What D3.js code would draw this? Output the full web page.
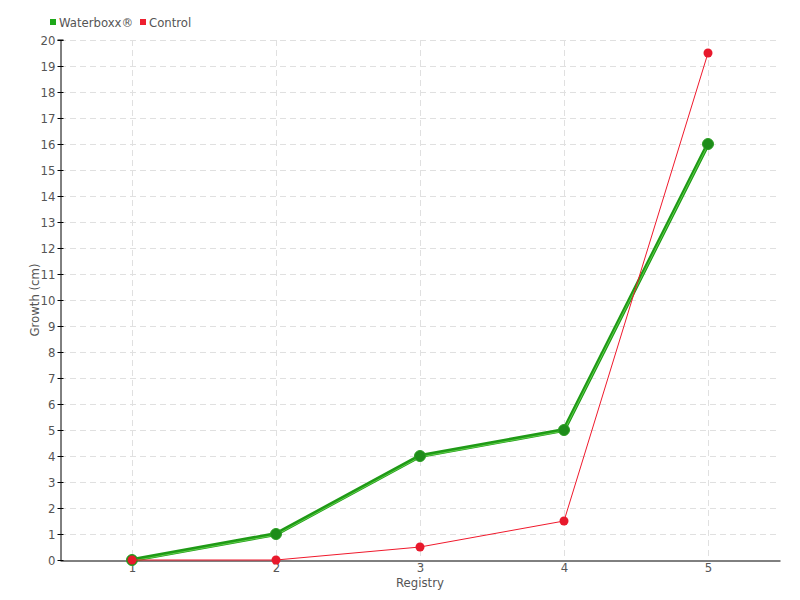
<!DOCTYPE html>
<html>
<head>
<meta charset="utf-8">
<script src="https://cdn.jsdelivr.net/npm/d3@7"></script>
<style>
  body { margin: 0; background: #fff; }
  text { font-family: "DejaVu Sans Condensed", "DejaVu Sans", sans-serif; font-stretch: condensed; fill: #555; }
</style>
</head>
<body>
<div id="chart"></div>
<script>
const registries = ["1", "2", "3", "4", "5"];
const waterboxx = [0, 1, 4, 5, 16];
const control = [0, 0, 0.5, 1.5, 19.5];
const yTicks = d3.range(0, 21);

const width = 800, height = 600;
const margin = { top: 40, right: 20, bottom: 40, left: 60 };

const svg = d3.select("#chart").append("svg")
  .attr("width", width)
  .attr("height", height);

const x = d3.scalePoint()
  .domain(registries)
  .range([margin.left, width - margin.right])
  .padding(0.5);

const y = d3.scaleLinear()
  .domain([0, 20])
  .range([height - margin.bottom, margin.top]);

// grid
const grid = svg.append("g");
grid.selectAll(".hg")
  .data(yTicks.filter(d => d > 0))
  .join("line")
  .attr("x1", margin.left).attr("x2", width - margin.right)
  .attr("y1", d => y(d) + 0.5).attr("y2", d => y(d) + 0.5)
  .attr("stroke", "#e0e0e0")
  .attr("stroke-dasharray", "6,4");
grid.selectAll(".vg")
  .data(registries)
  .join("line")
  .attr("x1", d => x(d) + 0.5).attr("x2", d => x(d) + 0.5)
  .attr("y1", margin.top).attr("y2", height - margin.bottom)
  .attr("stroke", "#e0e0e0")
  .attr("stroke-dasharray", "6,4");

// y axis
const yAxis = svg.append("g")
  .attr("transform", `translate(${margin.left + 0.5},0)`)
  .call(d3.axisLeft(y).tickValues(yTicks).tickSize(3).tickSizeOuter(0));
yAxis.select(".domain").attr("stroke", "#000");
yAxis.selectAll(".tick line").attr("stroke", "#000").attr("x2", 3).attr("x1", -3);
yAxis.selectAll(".tick text").attr("x", -5).style("font-size", "13px").attr("fill", "#555");
yAxis.append("line").attr("x1", -3).attr("x2", 3)
  .attr("y1", margin.top).attr("y2", margin.top).attr("stroke", "#000");

// x axis
const xAxis = svg.append("g")
  .attr("transform", `translate(0,${height - margin.bottom + 0.5})`)
  .call(d3.axisBottom(x).tickSize(0).tickSizeOuter(0));
xAxis.select(".domain").attr("stroke", "#000");
xAxis.selectAll(".tick text").attr("y", 2).style("font-size", "13px").attr("fill", "#555");

svg.append("text")
  .attr("x", (margin.left + width - margin.right) / 2)
  .attr("y", 587)
  .attr("text-anchor", "middle")
  .style("font-size", "13px")
  .text("Registry");

svg.append("text")
  .attr("transform", `translate(39,${(margin.top + height - margin.bottom) / 2}) rotate(-90)`)
  .attr("text-anchor", "middle")
  .style("font-size", "13px")
  .text("Growth (cm)");

const line = d3.line()
  .x((d, i) => x(registries[i]))
  .y(d => y(d));

// waterboxx series
svg.append("path")
  .datum(waterboxx)
  .attr("d", line)
  .attr("fill", "none")
  .attr("stroke", "#1f9a16")
  .attr("stroke-width", 4);
svg.append("path")
  .datum(waterboxx)
  .attr("d", line)
  .attr("fill", "none")
  .attr("stroke", "#5fcf4a")
  .attr("stroke-width", 1)
  .attr("transform", "translate(0,1)");

svg.selectAll(".wdot")
  .data(waterboxx)
  .join("circle")
  .attr("cx", (d, i) => x(registries[i]))
  .attr("cy", d => y(d))
  .attr("r", 5.5)
  .attr("fill", "#1e8c1a")
  .attr("stroke", "#2a9f22")
  .attr("stroke-width", 1);

// control series
svg.append("path")
  .datum(control)
  .attr("d", line)
  .attr("fill", "none")
  .attr("stroke", "#f0192c")
  .attr("stroke-width", 1);

svg.selectAll(".cdot")
  .data(control)
  .join("circle")
  .attr("cx", (d, i) => x(registries[i]))
  .attr("cy", d => y(d))
  .attr("r", 4.5)
  .attr("fill", "#e8192c");

// legend
const legend = [
  { name: "Waterboxx®", color: "#1ea81a", x: 50 },
  { name: "Control", color: "#ee1f2f", x: 140 }
];
const lg = svg.append("g");
lg.selectAll("rect")
  .data(legend)
  .join("rect")
  .attr("x", d => d.x).attr("y", 19)
  .attr("width", 6).attr("height", 6)
  .attr("fill", d => d.color);
lg.selectAll("text")
  .data(legend)
  .join("text")
  .attr("x", d => d.x + 9).attr("y", 27)
  .style("font-size", "13px")
  .text(d => d.name);
</script>
</body>
</html>
